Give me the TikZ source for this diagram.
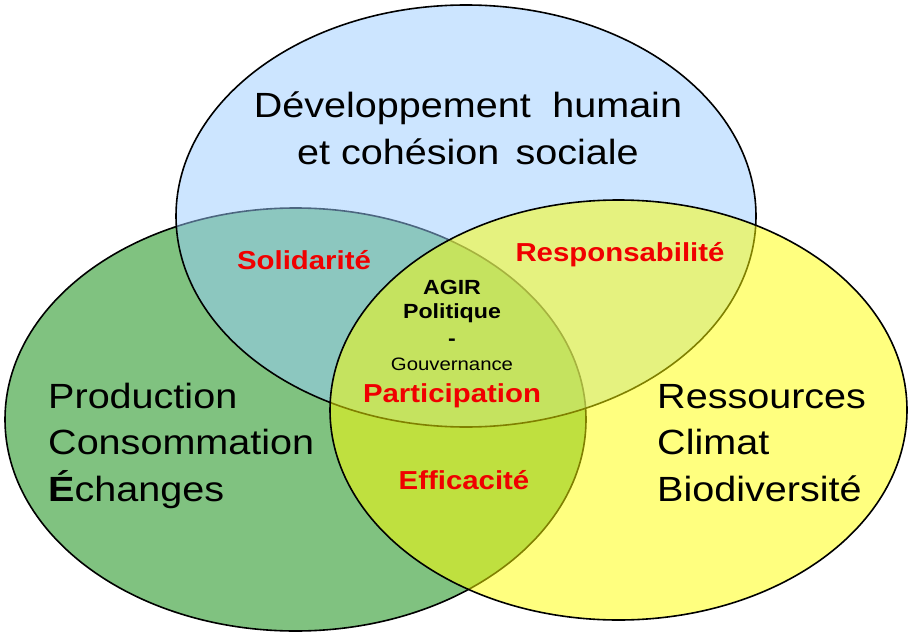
\documentclass[tikz,border=0pt]{standalone}
\usepackage{fontspec}
\setmainfont{Liberation Sans}[FakeStretch=1.13]
\definecolor{ecogreen}{RGB}{128,194,128}
\definecolor{socialblue}{RGB}{153,204,255}
\definecolor{envyellow}{RGB}{255,255,0}
\definecolor{valuered}{RGB}{240,0,0}

\begin{document}
\begin{tikzpicture}[x=1pt, y=-1pt,
    pillar/.style={draw=black, line width=1.6pt},
    theme/.style={font=\fontsize{35}{46.7}\selectfont, inner sep=0pt},
    value/.style={text=valuered, font=\bfseries\fontsize{26}{30}\selectfont, inner sep=0pt, anchor=base}]
\useasboundingbox (0,0) rectangle (910,634);

% economie (drawn first, opaque)
\filldraw[pillar, fill=ecogreen] (295.5,419.5) ellipse [x radius=290.5, y radius=211.5];
% social
\filldraw[pillar, fill=socialblue, fill opacity=0.5] (466,216) ellipse [x radius=290, y radius=211];
% environnement
\filldraw[pillar, fill=envyellow, fill opacity=0.5] (618.5,410) ellipse [x radius=288.5, y radius=210];

% base = last line
\node[theme, align=center, anchor=base] (social) at (468,164)
                        {Développement\hspace{0.3em} humain\\et cohésion\hspace{0.15em} sociale};
\node[theme, align=left, anchor=base west] (eco) at (48,501.5)
                        {Production\\Consommation\\\textbf{É}changes};
\node[theme, align=left, anchor=base west] (env) at (657,501.5)
                        {Ressources\\Climat\\Biodiversité};

\node[value] (solidarite) at (304,269) {Solidarité};
\node[value] (responsabilite) at (620,261) {Responsabilité};
\node[value] (participation) at (452,402) {Participation};
\node[value] (efficacite) at (464,489) {Efficacité};

% centre
\node[font=\bfseries\fontsize{20.5}{24}\selectfont, align=center, anchor=base, inner sep=0pt] (agir) at (452,345)
                        {AGIR\\Politique\\[3pt]-};
\node[font=\fontsize{18}{20}\selectfont, anchor=base, inner sep=0pt] (gouvernance) at (452,370.5)
                        {Gouvernance};

\end{tikzpicture}
\end{document}
